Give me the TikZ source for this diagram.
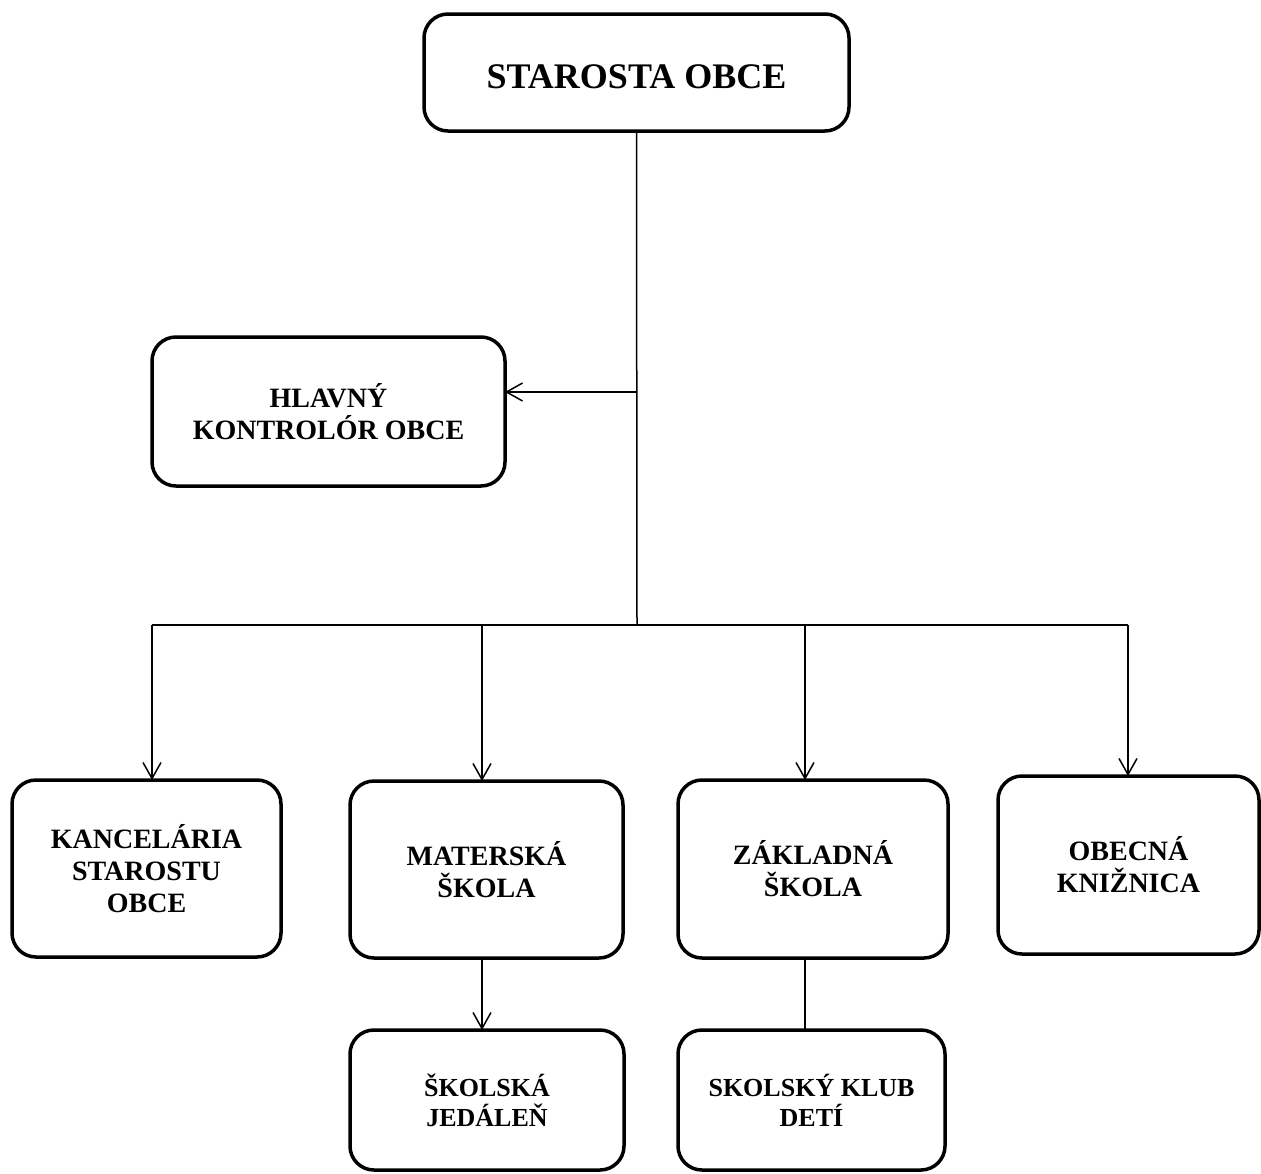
\documentclass[tikz,border=0pt]{standalone}
\usepackage{fontspec}
\setmainfont{Liberation Serif}
\usetikzlibrary{arrows.meta}
\begin{document}
\begin{tikzpicture}[x=1pt,y=-1pt,
  box/.style={draw, line width=3.5pt, rounded corners=24pt, align=center,
    font=\bfseries\fontsize{28}{32}\selectfont, inner sep=0pt, outer sep=0pt},
  smallbox/.style={box, font=\bfseries\fontsize{26}{30}\selectfont},
  conn/.style={line width=1.5pt},
  arr/.style={conn, -{Straight Barb[length=16pt,width=18pt,line width=1.5pt]}}
]
\useasboundingbox (0,0) rectangle (1261,1173);
\node[box, minimum width=425pt, minimum height=117pt, font=\bfseries\fontsize{36}{40}\selectfont] (top) at (636.5,72.5) {\raisebox{-4pt}[\height][\depth]{STAROSTA OBCE}};
\node[box, minimum width=353pt, minimum height=149pt] (hk) at (328.5,411.5) {HLAVNÝ\\KONTROLÓR OBCE};
\node[box, minimum width=269pt, minimum height=177pt] (kanc) at (146.5,868.5) {KANCELÁRIA\\STAROSTU\\OBCE};
\node[box, minimum width=273pt, minimum height=177pt] (mat) at (486.5,869.5) {MATERSKÁ\\ŠKOLA};
\node[box, minimum width=270pt, minimum height=178pt] (zak) at (813,869) {ZÁKLADNÁ\\ŠKOLA};
\node[box, minimum width=261pt, minimum height=178pt] (obec) at (1128.5,865) {OBECNÁ\\KNIŽNICA};
\node[smallbox, minimum width=274pt, minimum height=140pt] (jed) at (487,1100) {ŠKOLSKÁ\\JEDÁLEŇ};
\node[smallbox, minimum width=267pt, minimum height=140pt] (klub) at (811.5,1100) {SKOLSKÝ KLUB\\DETÍ};

\coordinate (bus) at (637,625);
\coordinate (hkj) at (637,392);
\coordinate (bl) at (152,625);
\coordinate (bm) at (482,625);
\coordinate (bz) at (805,625);
\coordinate (br) at (1128,625);

\draw[conn] (top.south) -- (bus);
\draw[arr] (hkj) -- (hkj -| hk.east);
\draw[conn] (bl) -- (br);
\draw[arr] (bl) -- (bl |- kanc.north);
\draw[arr] (bm) -- (bm |- mat.north);
\draw[arr] (bz) -- (bz |- zak.north);
\draw[arr] (br) -- (br |- obec.north);
\draw[arr] (mat.south -| bm) -- (bm |- jed.north);
\draw[conn] (zak.south -| bz) -- (bz |- klub.north);
\end{tikzpicture}
\end{document}
